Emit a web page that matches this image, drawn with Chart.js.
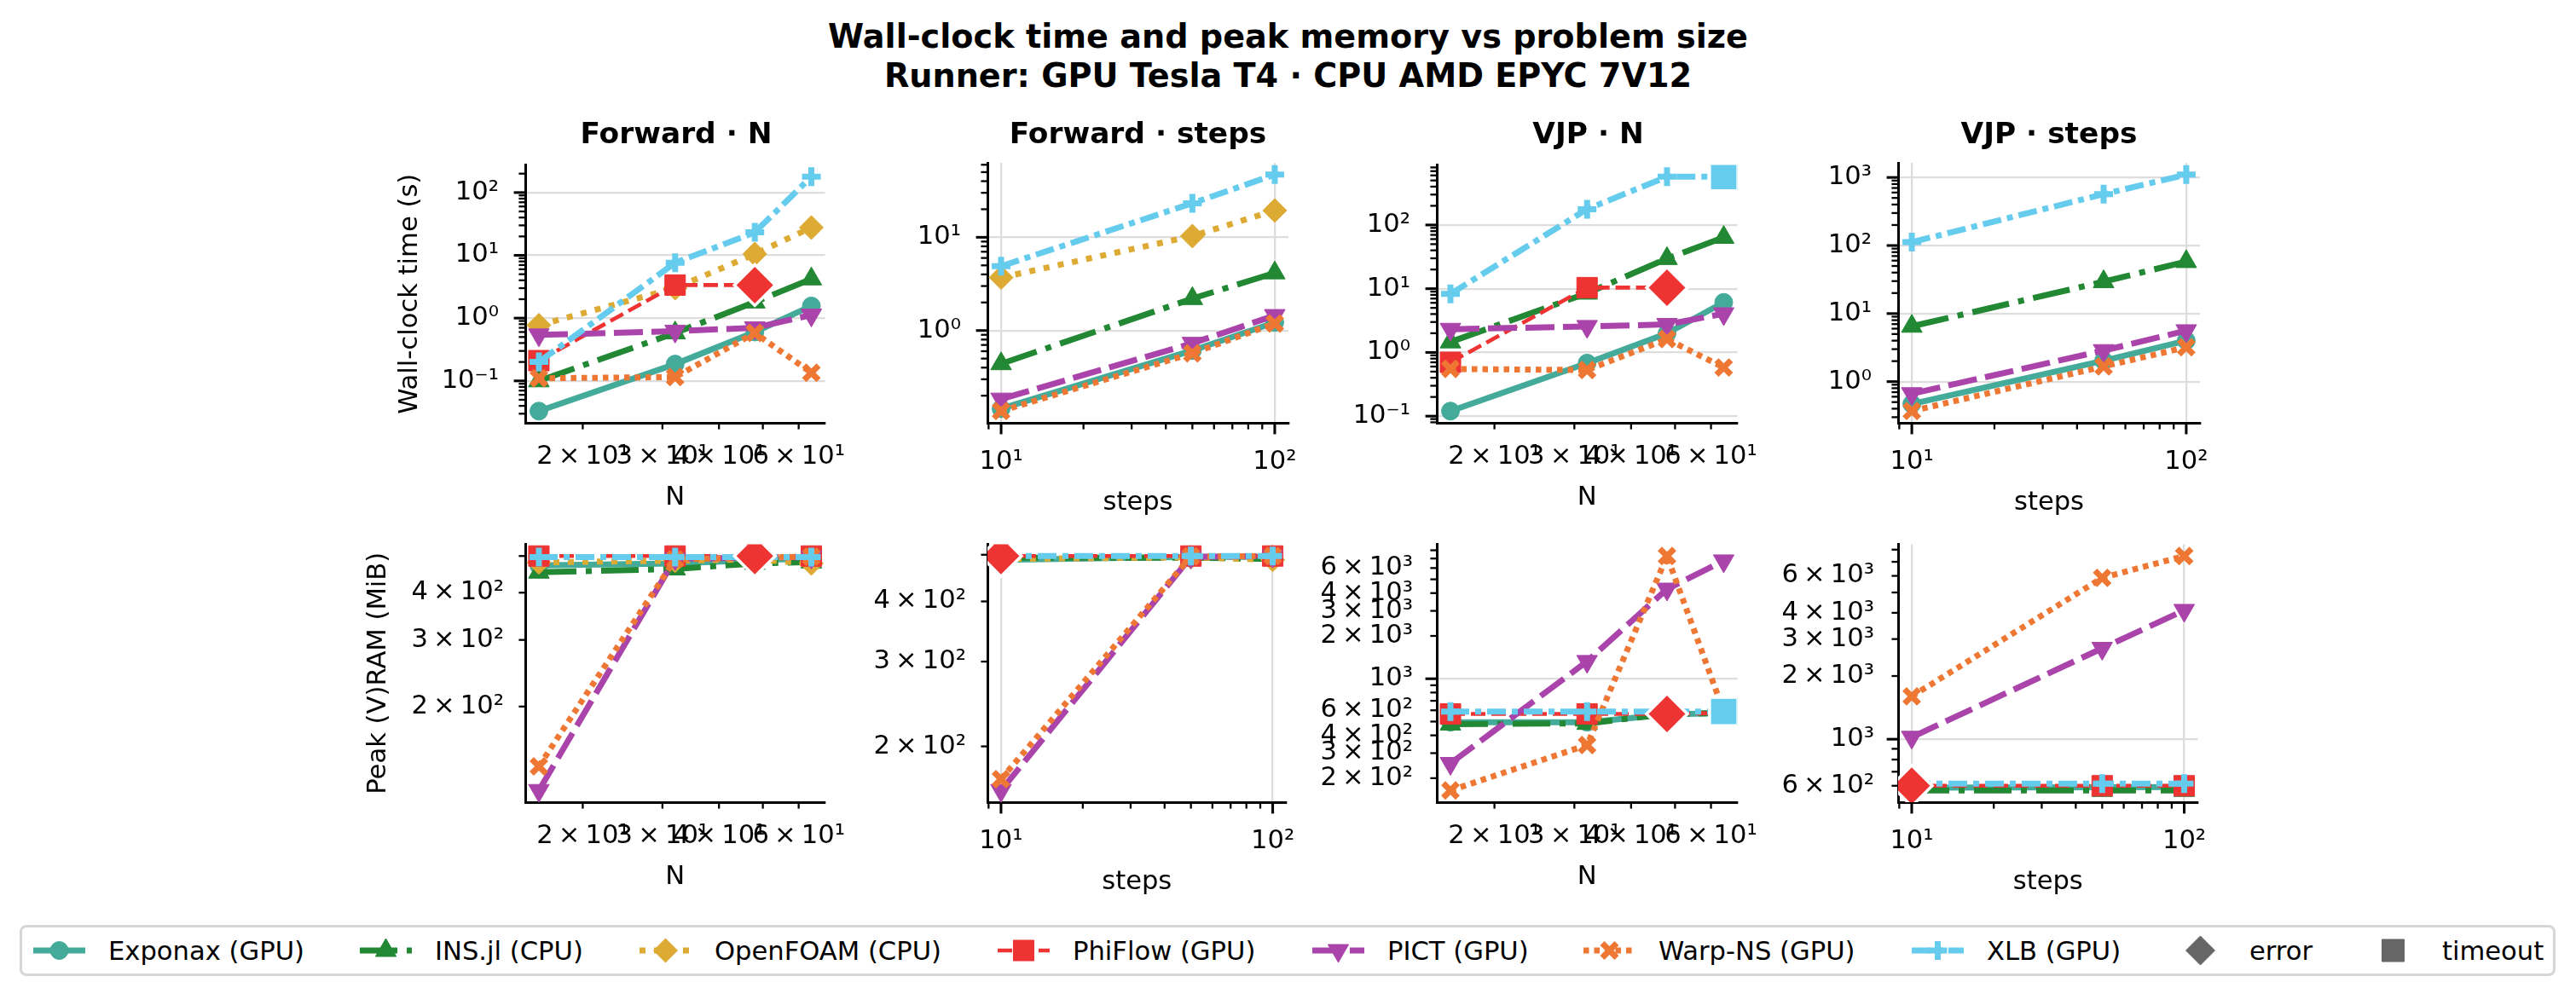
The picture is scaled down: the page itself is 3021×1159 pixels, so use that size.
<!DOCTYPE html>
<html>
<head>
<meta charset="utf-8">
<script src="https://cdn.jsdelivr.net/npm/chart.js@4.4.1/dist/chart.umd.min.js"></script>
<style>
  html, body { margin: 0; padding: 0; background: #fff; }
  body { width: 3021px; height: 1159px; position: relative; overflow: hidden; font-family: 'DejaVu Sans', sans-serif; color: #000; }
  .abs { position: absolute; }
  .suptitle { left: 0; width: 3021px; top: 20px; text-align: center; font-weight: bold; font-size: 38.2px; line-height: 46px; }
  .ptitle { top: 136px; font-weight: bold; font-size: 34.4px; line-height: 40px; white-space: nowrap; transform: translateX(-50%); }
  #legend { left: 23px; top: 1085px; width: 2974px; height: 60px; box-sizing: border-box; border: 3px solid #d6d6d6; border-radius: 8px;
            font-size: 30.6px; white-space: nowrap; }
  .item { position: absolute; top: 0; height: 54px; display: flex; align-items: center; }
  .item canvas { margin-right: 27px; }
</style>
</head>
<body>
<div class="abs suptitle">Wall-clock time and peak memory vs problem size<br>Runner: GPU Tesla T4 · CPU AMD EPYC 7V12</div>
<div id="legend" class="abs"></div>
<script>
// ---- data ----
const SERIES = ['Exponax (GPU)', 'INS.jl (CPU)', 'OpenFOAM (CPU)', 'PhiFlow (GPU)', 'PICT (GPU)', 'Warp-NS (GPU)', 'XLB (GPU)'];
const N_SIZES = [16, 32, 48, 64];
const STEP_COUNTS = [10, 50, 100];

// wall-clock time (s), one row per series, null = no run
const fwdNTime = [
  [0.033, 0.185, 0.60, 1.56],
  [0.10, 0.58, 1.8, 4.2],
  [0.77, 3.0, 10.5, 27.7],
  [0.21, 3.36, 3.36, null],
  [0.54, 0.62, 0.70, 1.12],
  [0.11, 0.115, 0.58, 0.135],
  [0.20, 7.6, 23.2, 179]
];
const fwdStepsTime = [
  [0.145, 0.61, 1.22],
  [0.44, 2.2, 4.15],
  [3.7, 10.3, 19.4],
  [null, null, null],
  [0.184, 0.73, 1.45],
  [0.137, 0.57, 1.19],
  [4.9, 23.2, 47]
];
const vjpNTime = [
  [0.12, 0.68, 1.99, 6.1],
  [1.46, 8.5, 29.7, 63.8],
  [null, null, null, null],
  [0.70, 10.4, 10.4, null],
  [2.31, 2.56, 2.75, 4.05],
  [0.55, 0.53, 1.62, 0.58],
  [8.3, 177, 573, 573]
];
const vjpStepsTime = [
  [0.47, 2.03, 4.0],
  [6.5, 29.4, 58],
  [null, null, null],
  [null, null, null],
  [0.665, 2.86, 5.6],
  [0.37, 1.67, 3.2],
  [112, 569, 1100]
];

// peak (V)RAM (MiB)
const fwdNMem = [
  [472, 478, 488, 492],
  [453, 462, 478, 482],
  [481, 486, 490, 478],
  [500, 500, 500, 500],
  [120, 492, 495, 497],
  [139, 490, 495, 498],
  [497, 497, 497, 497]
];
const fwdStepsMem = [
  [488, 495, 495],
  [493, 493, 490],
  [490, 494, 488],
  [497, 497, 497],
  [162, 495, 497],
  [171, 496, 497],
  [497, 497, 497]
];
const vjpNMem = [
  [495, 495, 560, 575],
  [480, 485, 565, 575],
  [null, null, null, null],
  [566, 566, 566, 575],
  [254, 1324, 4270, 6740],
  [164, 342, 7290, 590],
  [588, 588, 588, 588]
];
const vjpStepsMem = [
  [588, 590, 592],
  [570, 570, 570],
  [null, null, null],
  [600, 600, 600],
  [1022, 2710, 4110],
  [1600, 5870, 7460],
  [614, 614, 614]
];

// runs that failed: [panel, series index, x, kind]
const FAILED_RUNS = [
  ['fwdNTime', 3, 48, 'error'],
  ['vjpNTime', 3, 48, 'error'],
  ['vjpNTime', 6, 64, 'timeout'],
  ['fwdNMem', 3, 48, 'error'],
  ['fwdStepsMem', 3, 10, 'error'],
  ['vjpNMem', 3, 48, 'error'],
  ['vjpNMem', 6, 64, 'timeout'],
  ['vjpStepsMem', 3, 10, 'error']
];

// ---- styling ----
const COLORS = ['#44AA99', '#228833', '#DDAA33', '#EE3333', '#AA44AA', '#EE7733', '#66CCEE'];
const DASHES = [[], [44, 11, 7, 11], [7, 10], [17, 7], [34, 10], [6.5, 6], [22, 7, 7, 7]];
const WIDTHS = [7, 7, 7, 4.6, 7, 7, 7];
const MARKERS = ['circle', 'triangle', 'rectRot', 'rect', 'triangle', 'crossRot', 'cross'];
const RADII = [10.5, 14, 14, 17, 14, 12, 11];
const ROTATION = [0, 0, 0, 0, 180, 0, 0];
const MARKER_EDGE = [1, 1, 1, 1, 1, 7, 7];

const FONT = "'DejaVu Sans', sans-serif";
const COL_LEFT = [616, 1158, 1685, 2226];
const COL_WIDTH = [354, 353, 355, 354];
const ROW_TOP = [191, 636];
const ROW_HEIGHT = 305;
const Y_AXIS_W = 200, X_AXIS_H = 130, PAD_TOP = 25, PAD_RIGHT = 25;
// legend handle left edges (page x)
const LEGEND_X = [39, 422, 750, 1170, 1539, 1857, 2242, 2550, 2776];

const PANELS = [
  { key: 'fwdNTime', values: fwdNTime, xs: N_SIZES, row: 0, col: 0, title: 'Forward · N', xLabel: 'N', yLabel: 'Wall-clock time (s)' },
  { key: 'fwdStepsTime', values: fwdStepsTime, xs: STEP_COUNTS, row: 0, col: 1, title: 'Forward · steps', xLabel: 'steps' },
  { key: 'vjpNTime', values: vjpNTime, xs: N_SIZES, row: 0, col: 2, title: 'VJP · N', xLabel: 'N' },
  { key: 'vjpStepsTime', values: vjpStepsTime, xs: STEP_COUNTS, row: 0, col: 3, title: 'VJP · steps', xLabel: 'steps' },
  { key: 'fwdNMem', values: fwdNMem, xs: N_SIZES, row: 1, col: 0, xLabel: 'N', yLabel: 'Peak (V)RAM (MiB)' },
  { key: 'fwdStepsMem', values: fwdStepsMem, xs: STEP_COUNTS, row: 1, col: 1, xLabel: 'steps' },
  { key: 'vjpNMem', values: vjpNMem, xs: N_SIZES, row: 1, col: 2, xLabel: 'N' },
  { key: 'vjpStepsMem', values: vjpStepsMem, xs: STEP_COUNTS, row: 1, col: 3, xLabel: 'steps' }
];

// ---- log axis helpers (matplotlib-like) ----
const SUP = { '-': '\u207B', '0': '\u2070', '1': '\u00B9', '2': '\u00B2', '3': '\u00B3', '4': '\u2074',
              '5': '\u2075', '6': '\u2076', '7': '\u2077', '8': '\u2078', '9': '\u2079' };
const sup = n => String(n).split('').map(c => SUP[c]).join('');
const isDecade = v => Math.abs(Math.log10(v) - Math.round(Math.log10(v))) < 1e-6;

function logLimits(values) {
  const lo = Math.log10(Math.min(...values));
  const hi = Math.log10(Math.max(...values));
  const m = 0.05 * (hi - lo);
  return [Math.pow(10, lo - m), Math.pow(10, hi + m)];
}

function decadesIn(min, max) {
  let n = 0;
  for (let e = Math.ceil(Math.log10(min) - 1e-9); e <= Math.floor(Math.log10(max) + 1e-9); e++) n++;
  return n;
}

function buildLogTicks(scale) {
  const ticks = [];
  const e0 = Math.floor(Math.log10(scale.min)), e1 = Math.ceil(Math.log10(scale.max));
  for (let e = e0; e <= e1; e++) {
    for (let m = 1; m <= 9; m++) {
      const v = m * Math.pow(10, e);
      if (v >= scale.min && v <= scale.max) ticks.push({ value: v });
    }
  }
  scale.ticks = ticks;
}

function logLabel(value, index, ticks) {
  const e = Math.floor(Math.log10(value) + 1e-9);
  const m = Math.round(value / Math.pow(10, e));
  if (m === 1) return '10' + sup(e);
  const decades = ticks.filter(t => isDecade(t.value)).length;
  if (decades < 2 && [2, 3, 4, 6].includes(m)) return m + '\u2009\u00D7\u200910' + sup(e);
  return '';
}

// outward major/minor tick marks
const tickMarks = {
  id: 'tickMarks',
  afterDraw(chart) {
    const ctx = chart.ctx;
    ctx.save();
    ctx.strokeStyle = '#000';
    ['x', 'y'].forEach(id => {
      const s = chart.scales[id];
      s.ticks.forEach(t => {
        const major = isDecade(t.value);
        const len = major ? 13.4 : 7.6;
        ctx.lineWidth = major ? 3.06 : 2.3;
        const p = s.getPixelForValue(t.value);
        ctx.beginPath();
        if (id === 'x') { ctx.moveTo(p, s.top); ctx.lineTo(p, s.top + len); }
        else { ctx.moveTo(s.right, p); ctx.lineTo(s.right - len, p); }
        ctx.stroke();
      });
    });
    ctx.restore();
  }
};

const gridColor = ctx => (ctx.tick && isDecade(ctx.tick.value)) ? '#dddddd' : 'rgba(0,0,0,0)';

// ---- build the eight panels ----
PANELS.forEach(p => {
  const fails = FAILED_RUNS.filter(f => f[0] === p.key);
  const allY = [];
  const datasets = [];

  p.values.forEach((row, i) => {
    const pts = [], radii = [];
    row.forEach((v, j) => {
      if (v === null) return;
      pts.push({ x: p.xs[j], y: v });
      allY.push(v);
      const failed = fails.some(f => f[1] === i && f[2] === p.xs[j]);
      radii.push(failed ? 0 : RADII[i]);
    });
    if (!pts.length) return;
    datasets.push({
      label: SERIES[i],
      data: pts,
      borderColor: COLORS[i],
      backgroundColor: COLORS[i],
      borderWidth: WIDTHS[i],
      borderDash: DASHES[i],
      pointStyle: MARKERS[i],
      pointRadius: radii,
      pointRotation: ROTATION[i],
      pointBackgroundColor: COLORS[i],
      pointBorderColor: COLORS[i],
      pointBorderWidth: MARKER_EDGE[i],
      tension: 0,
      fill: false,
      clip: 0,
      order: -i
    });
  });

  fails.forEach(f => {
    const j = p.xs.indexOf(f[2]);
    const y = p.values[f[1]][j];
    datasets.push({
      label: f[3],
      data: [{ x: f[2], y: y }],
      showLine: false,
      pointStyle: f[3] === 'error' ? 'rectRot' : 'rect',
      pointRadius: f[3] === 'error' ? 24 : 23.5,
      pointBackgroundColor: COLORS[f[1]],
      pointBorderColor: '#ffffff',
      pointBorderWidth: 3.5,
      clip: 0,
      order: -100
    });
  });

  const [xMin, xMax] = logLimits(p.xs);
  const [yMin, yMax] = logLimits(allY);
  const nDec = decadesIn(yMin, yMax);
  const yPad = nDec >= 2 ? 31 : (nDec === 1 ? 28 : 25);
  const isSteps = p.xLabel === 'steps';

  const left = COL_LEFT[p.col], top = ROW_TOP[p.row], w = COL_WIDTH[p.col];
  const canvas = document.createElement('canvas');
  canvas.width = Y_AXIS_W + w + PAD_RIGHT;
  canvas.height = PAD_TOP + ROW_HEIGHT + X_AXIS_H;
  canvas.className = 'abs';
  canvas.style.left = (left - Y_AXIS_W) + 'px';
  canvas.style.top = (top - PAD_TOP) + 'px';
  document.body.appendChild(canvas);

  if (p.title) {
    const t = document.createElement('div');
    t.className = 'abs ptitle';
    t.style.left = (left + w / 2) + 'px';
    t.textContent = p.title;
    document.body.appendChild(t);
  }

  const tickFont = { family: FONT, size: 30.6 };
  new Chart(canvas, {
    type: 'line',
    data: { datasets },
    options: {
      responsive: false,
      maintainAspectRatio: false,
      animation: false,
      events: [],
      layout: { padding: { top: PAD_TOP, right: PAD_RIGHT, left: 0, bottom: 0 } },
      plugins: { legend: { display: false }, tooltip: { enabled: false }, title: { display: false } },
      scales: {
        x: {
          type: 'logarithmic',
          position: 'bottom',
          min: xMin,
          max: xMax,
          afterBuildTicks: buildLogTicks,
          afterFit: s => { s.height = X_AXIS_H; s.paddingLeft = 0; s.paddingRight = 0; },
          grid: { color: gridColor, lineWidth: 2.3, drawTicks: false },
          border: { color: '#000', width: 3 },
          ticks: { autoSkip: false, maxRotation: 0, minRotation: 0, padding: isSteps ? 28 : 21.6,
                   color: '#000', font: tickFont, callback: logLabel },
          title: { display: true, text: p.xLabel, color: '#000', font: tickFont,
                   padding: { top: 0, bottom: isSteps ? 17.1 : 23.6 } }
        },
        y: {
          type: 'logarithmic',
          position: 'left',
          min: yMin,
          max: yMax,
          afterBuildTicks: buildLogTicks,
          afterFit: s => { s.width = Y_AXIS_W; s.paddingTop = 0; s.paddingBottom = 0; },
          grid: { color: gridColor, lineWidth: 2.3, drawTicks: false },
          border: { color: '#000', width: 3 },
          ticks: { autoSkip: false, padding: yPad, color: '#000', font: tickFont, callback: logLabel },
          title: { display: !!p.yLabel, text: p.yLabel || '', color: '#000', font: tickFont,
                   padding: { top: p.row === 0 ? 46.6 : 9.6, bottom: 0 } }
        }
      }
    },
    plugins: [tickMarks]
  });
});

// ---- legend ----
function drawMarker(ctx, style, x, y, r, rot, fill, edge, lw) {
  ctx.save();
  ctx.translate(x, y);
  ctx.rotate(rot * Math.PI / 180);
  ctx.fillStyle = fill;
  ctx.strokeStyle = edge;
  ctx.lineWidth = lw;
  ctx.beginPath();
  if (style === 'circle') {
    ctx.arc(0, 0, r, 0, 2 * Math.PI);
  } else if (style === 'triangle') {
    for (let k = 0; k < 3; k++) {
      const a = k * 2 * Math.PI / 3;
      ctx[k ? 'lineTo' : 'moveTo'](Math.sin(a) * r, -Math.cos(a) * r);
    }
    ctx.closePath();
  } else if (style === 'rectRot') {
    ctx.moveTo(-r, 0); ctx.lineTo(0, -r); ctx.lineTo(r, 0); ctx.lineTo(0, r); ctx.closePath();
  } else if (style === 'rect') {
    const h = r * Math.SQRT1_2;
    ctx.rect(-h, -h, 2 * h, 2 * h);
  } else if (style === 'cross' || style === 'crossRot') {
    if (style === 'crossRot') ctx.rotate(Math.PI / 4);
    ctx.moveTo(-r, 0); ctx.lineTo(r, 0); ctx.moveTo(0, -r); ctx.lineTo(0, r);
    ctx.stroke();
    ctx.restore();
    return;
  }
  ctx.fill();
  if (lw) ctx.stroke();
  ctx.restore();
}

const legend = document.getElementById('legend');
let legendIndex = 0;
function addLegendItem(label, draw) {
  const item = document.createElement('div');
  item.className = 'item';
  item.style.left = (LEGEND_X[legendIndex++] - 26) + 'px';
  const c = document.createElement('canvas');
  c.width = 61; c.height = 40;
  draw(c.getContext('2d'));
  const span = document.createElement('span');
  span.textContent = label;
  item.appendChild(c);
  item.appendChild(span);
  legend.appendChild(item);
}
SERIES.forEach((name, i) => {
  addLegendItem(name, ctx => {
    ctx.strokeStyle = COLORS[i];
    ctx.lineWidth = WIDTHS[i];
    ctx.setLineDash(DASHES[i]);
    ctx.beginPath(); ctx.moveTo(0, 20); ctx.lineTo(61, 20); ctx.stroke();
    ctx.setLineDash([]);
    drawMarker(ctx, MARKERS[i], 30.5, 20, RADII[i], ROTATION[i], COLORS[i], COLORS[i], MARKER_EDGE[i]);
  });
});
addLegendItem('error', ctx => drawMarker(ctx, 'rectRot', 30.5, 20, 17, 0, '#666666', '#666666', 1));
addLegendItem('timeout', ctx => drawMarker(ctx, 'rect', 30.5, 20, 18.4, 0, '#666666', '#666666', 1));
</script>
</body>
</html>
